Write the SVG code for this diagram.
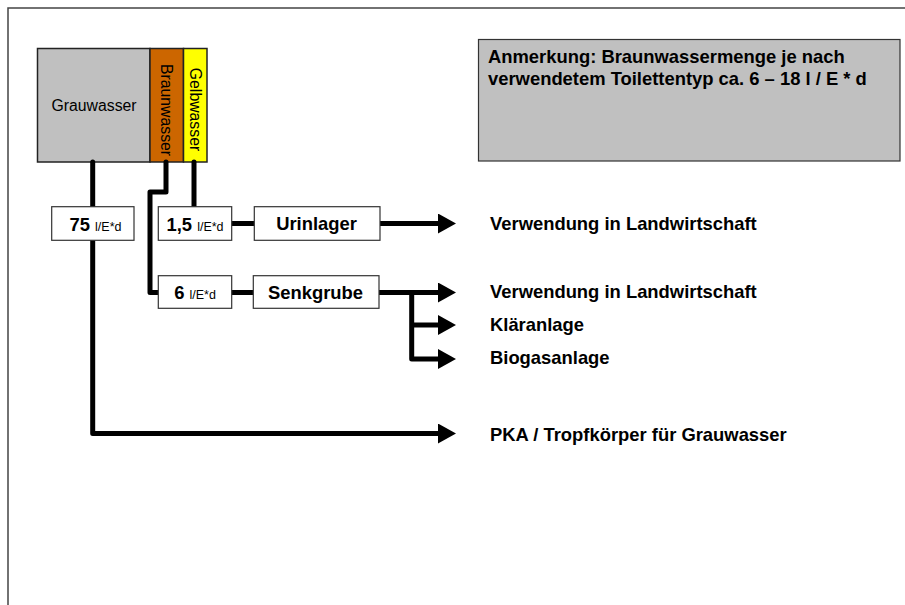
<svg xmlns="http://www.w3.org/2000/svg" width="905" height="605" viewBox="0 0 905 605">
<style>
text{font-family:"Liberation Sans",Arial,sans-serif;fill:#000}
.b{font-weight:bold;font-size:18.4px}
.r{font-size:15.8px}
.u{font-size:12.5px;font-weight:normal}
.box{fill:#fff;stroke:#333;stroke-width:1.2}
.con{fill:none;stroke:#000;stroke-width:5;stroke-linecap:round;stroke-linejoin:round}
.arr{fill:none;stroke:#000;stroke-width:5;stroke-linejoin:round;marker-end:url(#ah)}
</style>
<defs>
<marker id="ah" viewBox="0 0 18 20" refX="1" refY="10" markerWidth="18" markerHeight="20" markerUnits="userSpaceOnUse" orient="auto">
<path d="M0,0 L18,10 L0,20 Z" fill="#000"/>
</marker>
</defs>
<rect width="905" height="605" fill="#fff"/>
<path d="M8,605 V8 H905" fill="none" stroke="#444" stroke-width="1.5"/>

<g id="note">
<rect x="478.5" y="39.5" width="421.5" height="121.5" fill="#c0c0c0" stroke="#333" stroke-width="1.2"/>
<text class="b" x="488" y="63">Anmerkung: Braunwassermenge je nach</text>
<text class="b" x="488" y="85">verwendetem Toilettentyp ca. 6 – 18 l / E * d</text>
</g>

<g id="grauwasser">
<rect x="37.5" y="48.5" width="112.5" height="113.5" fill="#c0c0c0" stroke="#222" stroke-width="1.5"/>
<text class="r" x="94" y="110.5" text-anchor="middle">Grauwasser</text>
</g>
<g id="braunwasser">
<rect x="150" y="48.5" width="33.5" height="113.5" fill="#cc6600" stroke="#222" stroke-width="1.5"/>
<text class="r" text-anchor="middle" transform="translate(160.5,110) rotate(90)">Braunwasser</text>
</g>
<g id="gelbwasser">
<rect x="183.5" y="48.5" width="23.5" height="113.5" fill="#ffff00" stroke="#222" stroke-width="1.5"/>
<text class="r" text-anchor="middle" transform="translate(190,109.5) rotate(90)">Gelbwasser</text>
</g>

<g id="connectors">
<path class="con" d="M92.7,162 V207"/>
<path class="con" d="M194,162 V207"/>
<path class="con" d="M166,162 V192 H150 V292.5 H158"/>
<path class="con" d="M232,223.5 H254"/>
<path class="con" d="M232,292.5 H253"/>
<path class="arr" d="M92.7,240 V433.5 H439"/>
<path class="arr" d="M380,223.5 H439"/>
<path class="arr" d="M379,292.5 H439"/>
<path class="arr" d="M411.7,292.5 V359 H439"/>
<path class="arr" d="M411.7,325 H439"/>
</g>

<g id="q75">
<rect class="box" x="51.7" y="206.7" width="82.3" height="33.6"/>
<text class="b" x="95.5" y="230.5" text-anchor="middle">75 <tspan class="u">l/E*d</tspan></text>
</g>
<g id="q15">
<rect class="box" x="158.3" y="206.7" width="73.4" height="33.6"/>
<text class="b" x="195" y="230.5" text-anchor="middle">1,5 <tspan class="u">l/E*d</tspan></text>
</g>
<g id="q6">
<rect class="box" x="158.3" y="275.7" width="73.4" height="32.6"/>
<text class="b" x="195" y="299" text-anchor="middle">6 <tspan class="u">l/E*d</tspan></text>
</g>
<g id="urinlager">
<rect class="box" x="254.3" y="206.7" width="125.7" height="33.6"/>
<text class="b" x="316.5" y="230" text-anchor="middle">Urinlager</text>
</g>
<g id="senkgrube">
<rect class="box" x="253.3" y="275.7" width="125.7" height="32.6"/>
<text class="b" x="315.5" y="298.5" text-anchor="middle">Senkgrube</text>
</g>

<g id="ziel-urin"><text class="b" x="490" y="230">Verwendung in Landwirtschaft</text></g>
<g id="ziel-senk"><text class="b" x="490" y="297.5">Verwendung in Landwirtschaft</text></g>
<g id="klaeranlage"><text class="b" x="490" y="330.5">Kläranlage</text></g>
<g id="biogasanlage"><text class="b" x="490" y="364">Biogasanlage</text></g>
<g id="pka"><text class="b" x="490" y="440.5">PKA / Tropfkörper für Grauwasser</text></g>
</svg>
